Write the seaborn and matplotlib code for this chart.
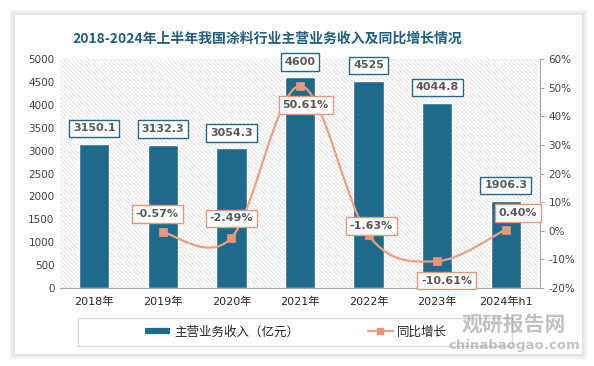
import numpy as np
import pandas as pd
import matplotlib
matplotlib.use('Agg')
import matplotlib.pyplot as plt
from matplotlib.patches import Rectangle
from matplotlib.path import Path
from matplotlib.patches import PathPatch
from matplotlib.lines import Line2D
import seaborn as sns

# 数据
years = ['2018年', '2019年', '2020年', '2021年', '2022年', '2023年', '2024年h1']
revenue = [3150.1, 3132.3, 3054.3, 4600, 4525, 4044.8, 1906.3]
revenue_labels = ['3150.1', '3132.3', '3054.3', '4600', '4525', '4044.8', '1906.3']
growth = [None, -0.57, -2.49, 50.61, -1.63, -10.61, 0.40]
growth_labels = ['', '-0.57%', '-2.49%', '50.61%', '-1.63%', '-10.61%', '0.40%']

# 样式
bar_color = '#1d6a8c'
line_color = '#ed9f80'
marker_color = '#e8977a'
text_color = '#595959'
growth_offsets = [None, (-4, 13), (0, 14), (4, -14), (2, 7), (7, -14), (9, 12)]

sns.set_style('white')
plt.rcParams['font.family'] = ['DejaVu Sans', 'Noto Sans CJK SC']
plt.rcParams['hatch.linewidth'] = 0.5

fig = plt.figure(figsize=(5.94, 3.66), dpi=100)
fig.patch.set_facecolor('white')

# 卡片阴影 + 白色卡片
W, H = 594, 366
for i in range(6):
    g = 6 - i
    fig.patches.append(Rectangle(((15 - g) / W, (12 - g) / H), (567 + 2 * g) / W, (339 + 2 * g) / H,
                                 transform=fig.transFigure, facecolor='black', alpha=0.018,
                                 edgecolor='none', zorder=-3))
fig.patches.append(Rectangle((15 / W, 12 / H), 567 / W, 339 / H, transform=fig.transFigure,
                             facecolor='white', edgecolor='none', zorder=-2))

ax = fig.add_axes([60 / W, 78 / H, 480 / W, 229 / H])
ax.set_facecolor('none')
ax.add_patch(Rectangle((0, 0), 1, 1, transform=ax.transAxes, facecolor='white',
                       edgecolor='#dadada', hatch='\\' * 8, lw=0, zorder=0))

df = pd.DataFrame({'year': years, 'revenue': revenue})
sns.barplot(data=df, x='year', y='revenue', color=bar_color, width=0.44,
            edgecolor='white', linewidth=1, saturation=1, ax=ax, zorder=2)
ax.set_xlim(-0.5, 6.5)
ax.set_ylim(0, 5000)
ax.set_yticks(range(0, 5001, 500))
ax.set_xlabel('')
ax.set_ylabel('')
ax.tick_params(axis='both', labelsize=7.5, colors='#404040', length=0, pad=4)
ax.tick_params(axis='x', labelsize=8, colors='#262626', pad=6)
for s in ['left', 'top', 'right']:
    ax.spines[s].set_visible(False)
ax.spines['bottom'].set_color('#a6a6a6')

for i, (v, lab) in enumerate(zip(revenue, revenue_labels)):
    ax.annotate(lab, (i, v), xytext=(0, 11), textcoords='offset points', ha='center', va='center',
                fontsize=8, fontweight='bold', color=text_color, zorder=5,
                bbox=dict(boxstyle='square,pad=0.35', facecolor='white', edgecolor=bar_color, lw=1))

# 同比增长（右轴）
ax2 = ax.twinx()
ax2.set_ylim(-20, 60)
ax2.set_yticks(range(-20, 61, 10))
ax2.set_yticklabels([f'{t}%' for t in range(-20, 61, 10)])
ax2.tick_params(axis='y', labelsize=7.5, colors='#404040', length=3, pad=3)
ax2.tick_params(axis='y', color='#a6a6a6')
for s in ['left', 'top', 'bottom']:
    ax2.spines[s].set_visible(False)
ax2.spines['right'].set_color('#a6a6a6')

gx = [i for i, g in enumerate(growth) if g is not None]
gy = [g for g in growth if g is not None]
pts = np.column_stack([gx, gy]).astype(float)
verts, codes = [pts[0]], [Path.MOVETO]
n = len(pts)
for k in range(n - 1):
    p0 = pts[k - 1] if k > 0 else pts[k]
    p1, p2 = pts[k], pts[k + 1]
    p3 = pts[k + 2] if k + 2 < n else pts[k + 1]
    verts += [p1 + (p2 - p0) / 6, p2 - (p3 - p1) / 6, p2]
    codes += [Path.CURVE4] * 3
ax2.add_patch(PathPatch(Path(verts, codes), facecolor='none', edgecolor=line_color, lw=1.6, zorder=3))
gdf = pd.DataFrame({'x': gx, 'y': gy})
sns.scatterplot(data=gdf, x='x', y='y', marker='s', s=40, color=marker_color, edgecolor=marker_color,
                ax=ax2, zorder=4)
ax2.set_xlabel('')
ax2.set_ylabel('')

for i, (g, lab) in enumerate(zip(growth, growth_labels)):
    if g is None:
        continue
    ax2.annotate(lab, (i, g), xytext=growth_offsets[i], textcoords='offset points', ha='center',
                 va='center', fontsize=8, fontweight='bold', color=text_color, zorder=6,
                 bbox=dict(boxstyle='square,pad=0.35', facecolor='white', edgecolor=marker_color, lw=1))

# 标题
fig.text(267 / W, 1 - 39 / H, '2018-2024年上半年我国涂料行业主营业务收入及同比增长情况',
         ha='center', va='center', fontsize=10, fontweight='bold', color='#1f5f80',
         family=['Noto Sans CJK SC', 'DejaVu Sans'])

# 图例
fig.patches.append(Rectangle((78 / W, 20 / H), 434 / W, 28 / H, transform=fig.transFigure,
                             facecolor='none', edgecolor='#d9d9d9', lw=1, zorder=2))
handles = [Line2D([], [], color=bar_color, lw=4.5, solid_capstyle='butt'),
           Line2D([], [], color=line_color, lw=1.6, marker='s', markersize=5,
                  markerfacecolor=marker_color, markeredgecolor=marker_color)]
fig.legend(handles, ['主营业务收入（亿元）', '同比增长'], loc='center', bbox_to_anchor=(296 / W, 34 / H),
           ncol=2, frameon=False, columnspacing=5.5, handlelength=2, handletextpad=0.3,
           prop={'family': ['Noto Sans CJK SC', 'DejaVu Sans'], 'size': 9})

# 水印
fig.text(514 / W, 1 - 324 / H, '观研报告网', ha='center', va='center', fontsize=15, fontweight='bold',
         color='#9a9a9a', alpha=0.6, family=['Noto Sans CJK SC', 'DejaVu Sans'], zorder=10)
fig.text(514 / W, 1 - 345 / H, 'chinabaogao.com', ha='center', va='center', fontsize=9.5,
         fontweight='bold', color='#9a9a9a', alpha=0.6, zorder=10)

fig.savefig('out.png', dpi=100)
